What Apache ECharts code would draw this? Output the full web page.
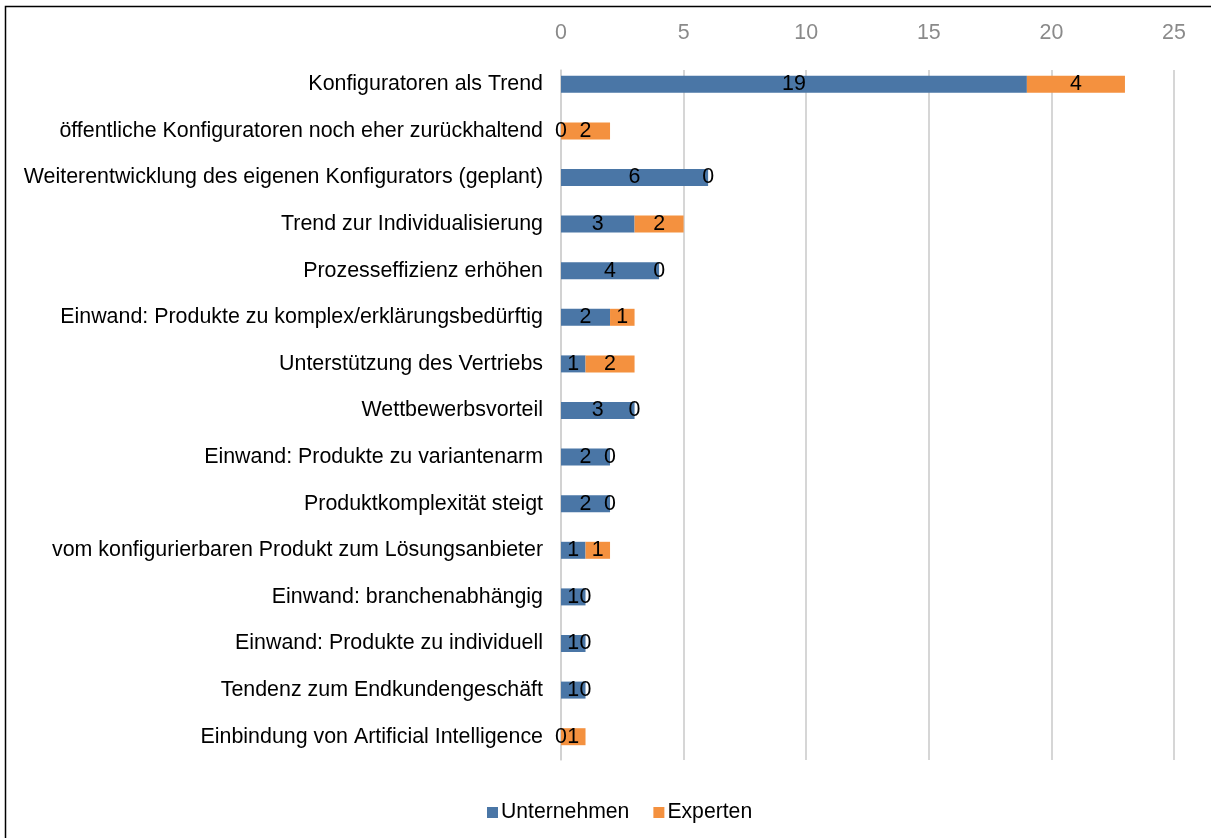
<!DOCTYPE html>
<html>
<head>
<meta charset="utf-8">
<script src="https://cdn.jsdelivr.net/npm/echarts@6/dist/echarts.min.js"></script>
<style>
  html, body { margin: 0; padding: 0; background: #fff; }
  #chart { width: 1211px; height: 838px; }
</style>
</head>
<body>
<div id="chart"></div>
<script>
// Kategorien (von oben nach unten)
const categories = [
  'Konfiguratoren als Trend',
  'öffentliche Konfiguratoren noch eher zurückhaltend',
  'Weiterentwicklung des eigenen Konfigurators (geplant)',
  'Trend zur Individualisierung',
  'Prozesseffizienz erhöhen',
  'Einwand: Produkte zu komplex/erklärungsbedürftig',
  'Unterstützung des Vertriebs',
  'Wettbewerbsvorteil',
  'Einwand: Produkte zu variantenarm',
  'Produktkomplexität steigt',
  'vom konfigurierbaren Produkt zum Lösungsanbieter',
  'Einwand: branchenabhängig',
  'Einwand: Produkte zu individuell',
  'Tendenz zum Endkundengeschäft',
  'Einbindung von Artificial Intelligence'
];
const unternehmen = [19, 0, 6, 3, 4, 2, 1, 3, 2, 2, 1, 1, 1, 1, 0];
const experten    = [4, 2, 0, 2, 0, 1, 2, 0, 0, 0, 1, 0, 0, 0, 1];
const seriesNames = ['Unternehmen', 'Experten'];
const axisMax = 25;
const axisStep = 5;

const FONT = '"Liberation Sans", Arial, sans-serif';
const BLUE = '#4a76a6';
const ORANGE = '#f4913f';

const chart = echarts.init(document.getElementById('chart'), null, { renderer: 'canvas' });

const valueLabel = {
  show: true,
  position: 'inside',
  color: '#000',
  fontFamily: FONT,
  fontSize: 21.4,
  formatter: p => String(p.value)
};

chart.setOption({
  animation: false,
  backgroundColor: '#fff',
  textStyle: { fontFamily: FONT },
  graphic: [{
    type: 'rect',
    shape: { x: 5.5, y: 6.5, width: 1400, height: 1000 },
    style: { fill: 'none', stroke: '#000', lineWidth: 1.5 },
    silent: true,
    z: 100
  }],
  legend: {
    data: seriesNames,
    left: 482,
    top: 797,
    icon: 'rect',
    itemWidth: 11,
    itemHeight: 11,
    itemGap: 24,
    textStyle: { fontFamily: FONT, fontSize: 21.2, color: '#000', padding: [0, 0, 0, -2] }
  },
  grid: [
    // Raster und Achsenbeschriftung
    { left: 561, right: 37, top: 70, bottom: 78, containLabel: false },
    // Balken und Kategorien
    { left: 561, right: 37, top: 61, bottom: 78, containLabel: false }
  ],
  xAxis: [{
    gridIndex: 0,
    type: 'value',
    position: 'top',
    min: 0,
    max: axisMax,
    interval: axisStep,
    axisLine: { show: false },
    axisTick: { show: false },
    axisLabel: { color: '#8a8a8a', fontFamily: FONT, fontSize: 21.4, margin: 26 },
    splitLine: { show: true, lineStyle: { color: '#c8c8c8', width: 1.5 } }
  }, {
    gridIndex: 1,
    type: 'value',
    position: 'top',
    min: 0,
    max: axisMax,
    interval: axisStep,
    axisLine: { show: false },
    axisTick: { show: false },
    axisLabel: { show: false },
    splitLine: { show: false }
  }],
  yAxis: [{
    gridIndex: 0,
    type: 'category',
    data: categories,
    inverse: true,
    axisLine: { show: true, lineStyle: { color: '#d0d0d0', width: 1.5 } },
    axisTick: { show: false },
    axisLabel: { show: false },
    splitLine: { show: false }
  }, {
    gridIndex: 1,
    type: 'category',
    data: categories,
    inverse: true,
    axisLine: { show: false },
    axisTick: { show: false },
    axisLabel: { color: '#000', fontFamily: FONT, fontSize: 21.4, margin: 18 },
    splitLine: { show: false }
  }],
  series: [{
    name: seriesNames[0],
    type: 'bar',
    stack: 'gesamt',
    xAxisIndex: 1,
    yAxisIndex: 1,
    data: unternehmen,
    barWidth: 17,
    itemStyle: { color: BLUE },
    label: valueLabel
  }, {
    name: seriesNames[1],
    type: 'bar',
    stack: 'gesamt',
    xAxisIndex: 1,
    yAxisIndex: 1,
    data: experten,
    barWidth: 17,
    itemStyle: { color: ORANGE },
    label: valueLabel
  }]
});
</script>
</body>
</html>
